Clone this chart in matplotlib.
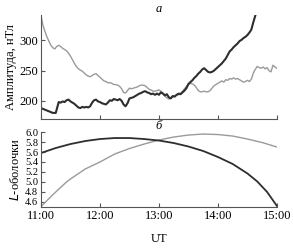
import matplotlib
matplotlib.use('Agg')
import matplotlib.pyplot as plt
import numpy as np

plt.rcParams['font.family'] = ['Liberation Serif', 'DejaVu Serif']

# panel a: amplitude, minutes after 11:00 UT
t_dark = [0, 3, 6, 9, 12, 15, 16, 18, 20, 22, 24, 26, 28, 30, 32, 34, 36, 38, 40, 42, 44, 46, 48, 50,
          52, 54, 56, 58, 60, 62, 64, 66, 68, 70, 72, 74, 76, 78, 80, 82, 84, 86, 88, 90, 92, 94, 96, 98,
          100, 102, 104, 106, 108, 110, 112, 114, 116, 118, 120, 122, 124, 126, 128, 130, 132, 134, 136,
          138, 140, 142, 144, 146, 148, 150, 152, 154, 156, 158, 160, 162, 164, 166, 168, 170, 172, 174,
          176, 178, 180, 182, 184, 186, 188, 190, 192, 194, 196, 198, 200, 202, 204, 206, 208, 210, 212,
          214, 216, 218]
amp_dark = [188, 186, 184, 182, 180, 180, 186, 198, 197, 199, 198, 201, 202, 199, 197, 195, 192, 189, 188,
            190, 189, 190, 189, 191, 197, 201, 202, 199, 198, 196, 195, 194, 197, 201, 200, 203, 202, 201,
            203, 200, 194, 191, 196, 204, 205, 206, 208, 210, 212, 213, 215, 216, 214, 213, 211, 212, 210,
            212, 210, 214, 212, 209, 211, 206, 204, 208, 207, 210, 212, 211, 214, 217, 221, 228, 231, 234,
            238, 241, 245, 248, 252, 254, 251, 248, 247, 248, 250, 253, 256, 259, 262, 266, 270, 276, 282,
            285, 289, 292, 295, 299, 301, 304, 306, 309, 313, 318, 330, 341]

t_grey = [0, 2, 4, 6, 8, 10, 12, 14, 16, 18, 20, 22, 24, 26, 28, 30, 32, 34, 36, 38, 40, 42, 44, 46, 48, 50,
          52, 54, 56, 58, 60, 62, 64, 66, 68, 70, 72, 74, 76, 78, 80, 82, 84, 86, 88, 90, 92, 94, 96, 98, 100,
          102, 104, 106, 108, 110, 112, 114, 116, 118, 120, 122, 124, 126, 128, 130, 132, 134, 136, 138, 140,
          142, 144, 146, 148, 150, 152, 154, 156, 158, 160, 162, 164, 166, 168, 170, 172, 174, 176, 178, 180,
          182, 184, 186, 188, 190, 192, 194, 196, 198, 200, 202, 204, 206, 208, 210, 212, 214, 216, 218, 220,
          222, 224, 226, 228, 230, 232, 234, 236, 238, 240]
amp_grey = [341, 325, 315, 306, 299, 292, 288, 286, 290, 292, 290, 287, 285, 283, 279, 274, 268, 262, 257,
            253, 251, 249, 246, 243, 241, 240, 242, 244, 245, 242, 239, 236, 233, 232, 230, 230, 229, 227,
            227, 226, 224, 220, 214, 213, 217, 221, 220, 221, 222, 223, 225, 226, 226, 225, 222, 219, 218,
            216, 216, 217, 218, 216, 213, 208, 205, 203, 205, 206, 208, 210, 210, 212, 216, 220, 224, 227,
            229, 228, 226, 222, 217, 215, 215, 216, 215, 215, 217, 221, 225, 227, 229, 231, 233, 231, 235,
            234, 237, 236, 238, 236, 237, 235, 233, 231, 232, 234, 232, 236, 246, 252, 257, 255, 254, 256,
            253, 255, 250, 248, 259, 256, 254]

# panel б: L-shells
t_L = [0, 15, 30, 45, 60, 75, 90, 105, 120, 135, 150, 165, 180, 195, 210, 220, 230, 240]
L_dark = [5.58, 5.68, 5.76, 5.82, 5.86, 5.88, 5.88, 5.86, 5.83, 5.78, 5.71, 5.62, 5.50, 5.36, 5.17, 5.01, 4.80, 4.52]
t_L2 = [0, 15, 26, 30, 45, 60, 75, 90, 105, 120, 135, 150, 165, 180, 195, 210, 225, 240]
L_grey = [4.51, 4.80, 5.00, 5.06, 5.26, 5.40, 5.56, 5.67, 5.76, 5.84, 5.90, 5.94, 5.96, 5.95, 5.92, 5.86, 5.79, 5.70]

hour_ticks = [11, 12, 13, 14, 15]
hour_labels = ['11:00', '12:00', '13:00', '14:00', '15:00']
L_ticks = [4.6, 4.8, 5.0, 5.2, 5.4, 5.6, 5.8, 6.0]

dark = '#2e2e2e'
grey = '#9a9a9a'
axcol = '#555555'

fig = plt.figure(figsize=(2.93, 2.52), dpi=100)
ax1 = fig.add_axes([0.140, 0.528, 0.805, 0.412])
ax2 = fig.add_axes([0.140, 0.179, 0.805, 0.297])

def h(m):
    return 11 + np.array(m) / 60.0

ax1.plot(h(t_grey), amp_grey, color=grey, lw=1.0)
ax1.plot(h(t_dark), amp_dark, color=dark, lw=1.5)
ax1.set_xlim(11, 15)
ax1.set_ylim(170, 342)
ax1.set_yticks([200, 250, 300])
ax1.set_xticks(hour_ticks)
ax1.set_xticklabels([])
ax1.set_ylabel('Амплитуда, нТл', fontsize=9, labelpad=2)
ax1.set_title('а', fontsize=9, style='italic', pad=1)

ax2.plot(h(t_L2), L_grey, color=grey, lw=1.0)
ax2.plot(h(t_L), L_dark, color=dark, lw=1.3)
ax2.set_xlim(11, 15)
ax2.set_ylim(4.5, 6.0)
ax2.set_yticks(L_ticks)
ax2.set_yticklabels(['%.1f' % v for v in L_ticks])
ax2.set_xticks(hour_ticks)
ax2.set_xticklabels(hour_labels)
ax2.set_ylabel('$\\mathit{L}$-оболочки', fontsize=9, labelpad=2)
ax2.set_xlabel('UT', fontsize=9, labelpad=8)
ax2.set_title('б', fontsize=9, style='italic', pad=1)

for ax in (ax1, ax2):
    for s in ('top', 'right'):
        ax.spines[s].set_visible(False)
    for s in ('left', 'bottom'):
        ax.spines[s].set_color(axcol)
        ax.spines[s].set_linewidth(0.8)
    ax.tick_params(direction='in', length=3, width=0.8, color=axcol, labelsize=9, pad=2)
ax2.tick_params(axis='y', labelsize=7.5, pad=2)

fig.savefig('out.png', dpi=100)
